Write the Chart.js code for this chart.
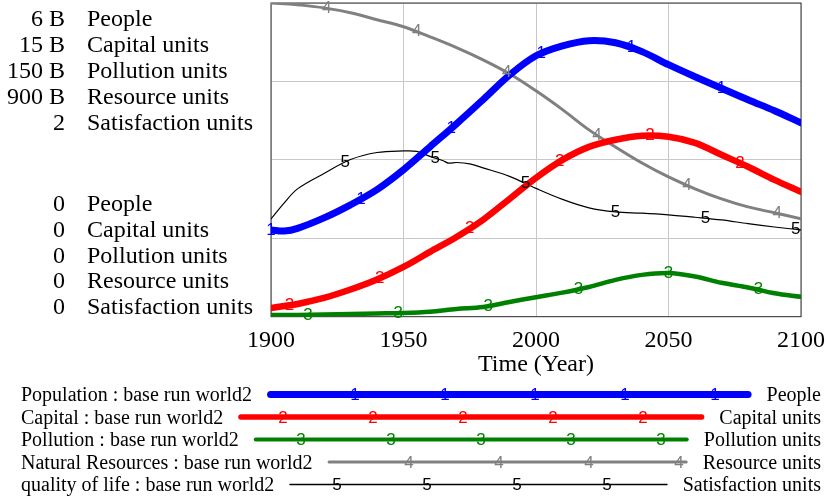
<!DOCTYPE html>
<html>
<head>
<meta charset="utf-8">
<script src="https://cdn.jsdelivr.net/npm/chart.js@4/dist/chart.umd.min.js"></script>
<style>
  html, body { margin: 0; padding: 0; background: #fff; }
</style>
</head>
<body>
<canvas id="world2" width="826" height="502"></canvas>
<script>
// World2 base run
const years = [1900, 1905, 1910, 1920, 1930, 1940, 1950, 1960, 1970, 1980, 1990, 2000,
               2010, 2020, 2030, 2040, 2050, 2060, 2070, 2080, 2090, 2100];

// billions of people
const population = [1.66, 1.64, 1.69, 1.89, 2.14, 2.43, 2.81, 3.25, 3.69, 4.15, 4.62, 4.99,
                    5.18, 5.28, 5.24, 5.07, 4.82, 4.59, 4.37, 4.15, 3.94, 3.71];
// billions of capital units
const capital = [0.42, 0.51, 0.61, 0.90, 1.30, 1.78, 2.38, 3.10, 3.81, 4.63, 5.63, 6.64,
                 7.50, 8.12, 8.46, 8.65, 8.60, 8.31, 7.74, 7.17, 6.54, 5.97];
// billions of pollution units
const pollution = [0.81, 0.81, 0.81, 1.05, 1.29, 1.53, 1.77, 2.39, 3.69, 4.64, 7.04, 9.3,
                   11.5, 14.2, 17.6, 20.0, 20.9, 19.2, 16.2, 14.0, 11.2, 9.5];
// billions of resource units
const resources = [900, 898, 895, 886, 872, 852, 832, 803, 772, 737, 697, 648,
                   594, 536, 487, 441, 401, 367, 338, 315, 298, 281];

const qolYears = [1900, 1905, 1910, 1920, 1930, 1940, 1950, 1955, 1960, 1965, 1967, 1970, 1975,
                  1980, 1990, 2000, 2010, 2020, 2030, 2040, 2050, 2060, 2070, 2080, 2090, 2100];
// satisfaction units
const qualityOfLife = [0.623, 0.726, 0.815, 0.913, 1.002, 1.047, 1.057, 1.054, 1.022, 0.994, 0.979, 0.983, 0.974,
                       0.949, 0.895, 0.818, 0.748, 0.694, 0.668, 0.660, 0.649, 0.634, 0.617, 0.593, 0.572, 0.553];

const seriesNames = ['Population : base run world2', 'Capital : base run world2', 'Pollution : base run world2',
                     'Natural Resources : base run world2', 'quality of life : base run world2'];
const seriesUnits = ['People', 'Capital units', 'Pollution units', 'Resource units', 'Satisfaction units'];
const axisMax = [6, 15, 150, 900, 2];
const axisTopLabels = ['6 B', '15 B', '150 B', '900 B', '2'];
const axisBottomLabels = ['0', '0', '0', '0', '0'];
const xTickValues = [1900, 1950, 2000, 2050, 2100];

const colors = ['#0000ff', '#ff0000', '#008000', '#808080', '#000000'];
const lineWidths = [7, 6.5, 4.5, 3, 1.2];
const legendWidths = [7, 5.5, 4, 3, 1.3];
const SERIF = '"Liberation Serif", "Times New Roman", serif';
const SANS = '"Liberation Sans", Arial, sans-serif';

const toPoints = (xs, ys) => xs.map((x, i) => ({ x: x, y: ys[i] }));
const seriesData = [
    toPoints(years, population),
    toPoints(years, capital),
    toPoints(years, pollution),
    toPoints(years, resources),
    toPoints(qolYears, qualityOfLife)
];
const axisIds = ['y', 'yCap', 'yPol', 'yRes', 'yQol'];

// numbered markers every 34 years, shifted 7 years per series (Vensim style)
const markerYears = (i) => {
    const out = [];
    for (let yr = 1900 + 7 * i; yr <= 2100; yr += 34) out.push(yr);
    return out;
};

const vensimPlugin = {
    id: 'vensim',
    beforeDatasetsDraw(chart) {
        const { ctx, chartArea: a } = chart;
        ctx.save();
        ctx.strokeStyle = '#333';
        ctx.lineWidth = 1;
        ctx.strokeRect(a.left, a.top, a.right - a.left, a.bottom - a.top);
        ctx.restore();
    },
    afterDatasetsDraw(chart) {
        const { ctx } = chart;
        const xs = chart.scales.x;
        ctx.save();
        ctx.font = '17px ' + SANS;
        ctx.textAlign = 'center';
        ctx.textBaseline = 'middle';
        chart.data.datasets.forEach((ds, i) => {
            const line = chart.getDatasetMeta(i).dataset;
            ctx.fillStyle = colors[i];
            markerYears(i).forEach(yr => {
                const px = xs.getPixelForValue(yr);
                let pt = line.interpolate({ x: px }, 'x');
                if (Array.isArray(pt)) pt = pt[0];
                if (pt) ctx.fillText(String(i + 1), px, pt.y);
            });
        });
        ctx.restore();
    },
    afterDraw(chart) {
        const { ctx } = chart;
        ctx.save();
        // left side axis labels (max values on top, zeros below)
        ctx.fillStyle = '#000';
        ctx.font = '24px ' + SERIF;
        ctx.textBaseline = 'alphabetic';
        seriesUnits.forEach((u, i) => {
            const yTop = 26 + 26 * i;
            const yBot = 211 + 25.75 * i;
            ctx.textAlign = 'right';
            ctx.fillText(axisTopLabels[i], 65, yTop);
            ctx.fillText(axisBottomLabels[i], 65, yBot);
            ctx.textAlign = 'left';
            ctx.fillText(u, 87, yTop);
            ctx.fillText(u, 87, yBot);
        });

        // legend rows at the bottom
        ctx.font = '20px ' + SERIF;
        seriesNames.forEach((name, i) => {
            const base = 401 + 22.5 * i;
            const y = base - 6.5;
            ctx.fillStyle = '#000';
            ctx.textAlign = 'left';
            ctx.fillText(name, 21, base);
            ctx.textAlign = 'right';
            ctx.fillText(seriesUnits[i], 821, base);
            const w = legendWidths[i];
            const x0 = 21 + ctx.measureText(name).width + 15 + w / 2;
            const x1 = 821 - ctx.measureText(seriesUnits[i]).width - 15 - w / 2;
            ctx.strokeStyle = colors[i];
            ctx.lineWidth = w;
            ctx.lineCap = 'round';
            ctx.beginPath();
            ctx.moveTo(x0, y);
            ctx.lineTo(x1, y);
            ctx.stroke();
            ctx.save();
            ctx.font = '17px ' + SANS;
            ctx.fillStyle = colors[i];
            ctx.textAlign = 'center';
            ctx.textBaseline = 'middle';
            for (let mx = 265 + 18 * i; mx < x1; mx += 90) {
                if (mx > x0) ctx.fillText(String(i + 1), mx, y + 1);
            }
            ctx.restore();
        });
        ctx.restore();
    }
};

const scales = {
    x: {
        type: 'linear',
        min: 1900,
        max: 2100,
        afterBuildTicks: (s) => { s.ticks = xTickValues.map(v => ({ value: v })); },
        afterFit: (s) => { s.height = 62.7; s.paddingLeft = 0; s.paddingRight = 0; },
        ticks: { color: '#000', font: { family: SERIF, size: 24 }, padding: 10, maxRotation: 0,
                 callback: (v) => String(v) },
        grid: { color: '#c8c8c8', drawTicks: false },
        border: { display: false },
        title: { display: true, text: 'Time (Year)', color: '#000', font: { family: SERIF, size: 24 },
                 padding: { top: 0, bottom: 0 } }
    },
    y: {
        min: 0,
        max: axisMax[0],
        ticks: { display: false, stepSize: axisMax[0] / 4 },
        grid: { color: '#c8c8c8', drawTicks: false },
        border: { display: false },
        afterFit: (s) => { s.width = 0; }
    }
};
axisIds.slice(1).forEach((id, k) => {
    scales[id] = { display: false, min: 0, max: axisMax[k + 1] };
});

new Chart(document.getElementById('world2').getContext('2d'), {
    type: 'line',
    data: {
        datasets: seriesData.map((pts, i) => ({
            label: seriesNames[i],
            data: pts,
            yAxisID: axisIds[i],
            borderColor: colors[i],
            borderWidth: lineWidths[i],
            borderCapStyle: 'round',
            pointRadius: 0,
            tension: 0.35,
            fill: false,
            order: i
        }))
    },
    options: {
        responsive: false,
        animation: false,
        devicePixelRatio: 1,
        layout: { padding: { left: 271, right: 25, top: 3, bottom: 122.6 } },
        plugins: { legend: { display: false }, tooltip: { enabled: false } },
        scales: scales
    },
    plugins: [vensimPlugin]
});
</script>
</body>
</html>
